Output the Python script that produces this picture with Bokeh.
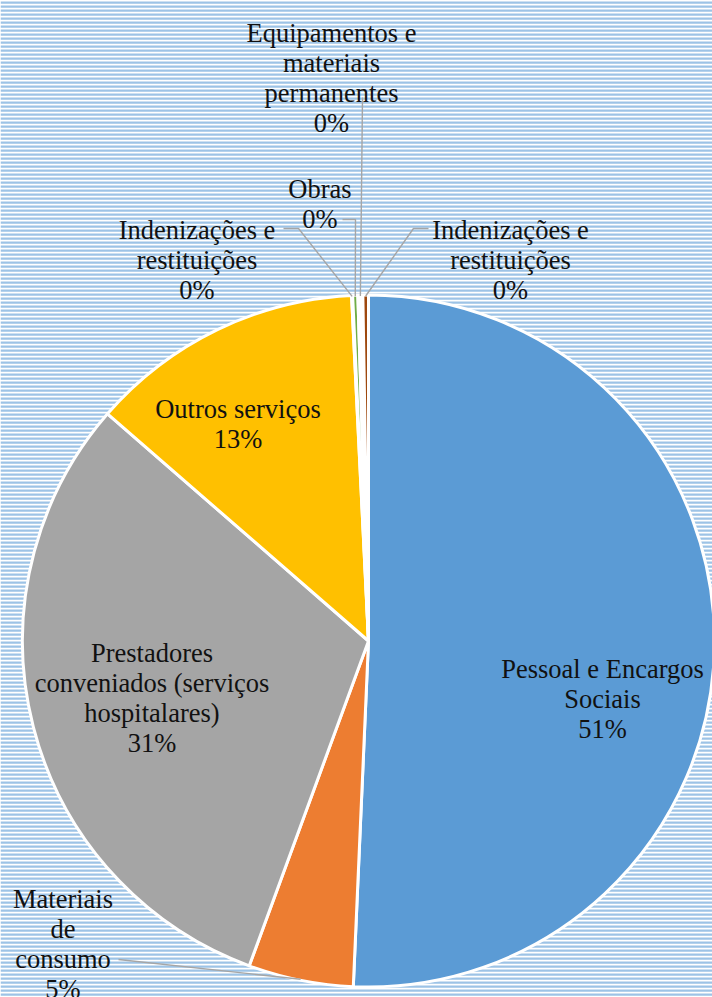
import math
import textwrap
import numpy as np
from bokeh.plotting import figure
from bokeh.models import Range1d
from bokeh.core.properties import value
from bokeh.embed import file_html
from bokeh.resources import INLINE

# ---------------- data ----------------
categories = [
    "Pessoal e Encargos Sociais",
    "Materiais de consumo",
    "Prestadores conveniados (serviços hospitalares)",
    "Outros serviços",
    "Indenizações e restituições",
    "Obras",
    "Equipamentos e materiais permanentes",
    "Indenizações e restituições",
]
values = [50.7, 4.9, 30.8, 12.82, 0.05, 0.24, 0.23, 0.26]
colors = ["#5B9BD5", "#ED7D31", "#A5A5A5", "#FFC000",
          "#FFFFFF", "#70AD47", "#FFFFFF", "#9E480E"]

# ---------------- layout (reference pixel coords: x, y from top) ----------------
W, H = 712, 997
CX, CY = 368.0, 640.5
R = 346
wrap_widths = [18, 9, 21, 15, 14, 14, 14, 14]
label_anchor = [(602, 668), (62.5, 898), (151.5, 652), (237.5, 408),
                (196.5, 229), (319.5, 188), (331, 32), (510, 229)]
LINE_STEP = 30
leader_knees = {1: [(118, 959)],
                4: [(283, 228), (298, 228)],
                5: [(342, 219), (355, 219)],
                6: [(362, 97)],
                7: [(428, 228), (413, 228)]}


def Y(yref):
    return H - yref


p = figure(width=W, height=H, output_backend="svg", toolbar_location=None,
           x_axis_type=None, y_axis_type=None, min_border=0,
           x_range=Range1d(0, W), y_range=Range1d(0, H))
p.grid.visible = False
p.outline_line_color = None
p.background_fill_color = "white"
p.border_fill_color = "white"

# striped background (decoration)
k = np.arange(0, 252)
tops = Y(1.0 + 4 * k)
bots = Y(3.25 + 4 * k)
p.quad(left=0, right=W, top=tops, bottom=bots, fill_color="#9DC3E6",
       line_color=None)

# pie
total = float(sum(values))
fr = np.array(values) / total
c1 = np.cumsum(fr)
c0 = c1 - fr
start = np.pi / 2 - 2 * np.pi * c1
end = np.pi / 2 - 2 * np.pi * c0
p.wedge(x=CX, y=Y(CY), radius=R, radius_units="screen",
        start_angle=start, end_angle=end, fill_color=colors,
        line_color="white", line_width=3)

# leader lines
for i, knees in leader_knees.items():
    mid = np.pi / 2 - 2 * np.pi * (c0[i] + c1[i]) / 2
    rx = CX + (R - 1) * math.cos(mid)
    ry = CY - (R - 1) * math.sin(mid)
    xs = [kx for kx, ky in knees] + [rx]
    ys = [Y(ky) for kx, ky in knees] + [Y(ry)]
    p.line(xs, ys, line_color="#A6A6A6", line_width=1.4)

# labels
tx, ty, tt = [], [], []
for i, cat in enumerate(categories):
    lines = textwrap.wrap(cat, wrap_widths[i])
    lines.append("%d%%" % round(fr[i] * 100))
    ax, ay = label_anchor[i]
    for j, ln in enumerate(lines):
        tx.append(ax)
        ty.append(Y(ay + j * LINE_STEP))
        tt.append(ln)
p.text(x=tx, y=ty, text=tt, text_font=value("Liberation Serif"),
       text_font_size="26.5px", text_align="center",
       text_baseline="alphabetic", text_color="#111111")

open("out.html", "w").write(file_html(p, INLINE))
